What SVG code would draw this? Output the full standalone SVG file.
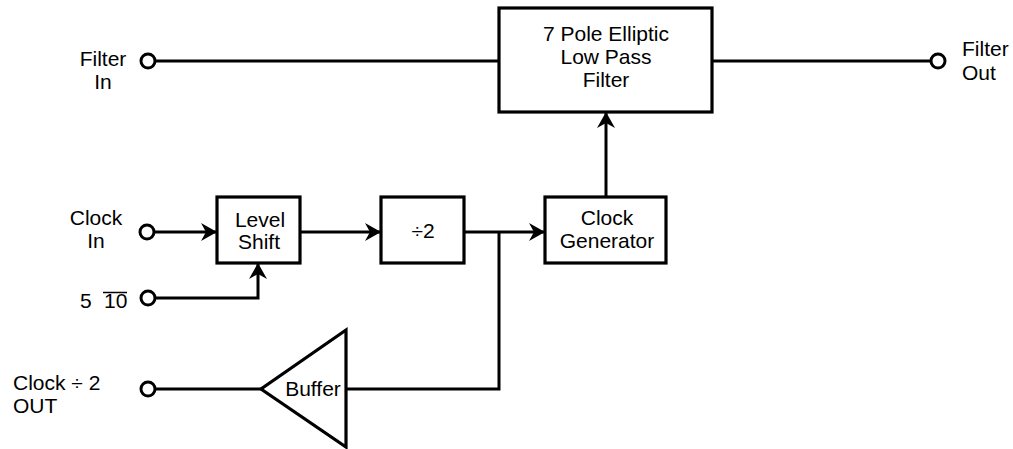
<svg xmlns="http://www.w3.org/2000/svg" width="1013" height="449" viewBox="0 0 1013 449">
<style>
  .box { fill: #ffffff; stroke: #000000; stroke-width: 3.2; }
  .wire { fill: none; stroke: #000000; stroke-width: 3; }
  .port { fill: #ffffff; stroke: #000000; stroke-width: 3; }
  .lbl { font-family: "Liberation Sans", Arial, Helvetica, sans-serif; font-size: 21px; fill: #000000; }
  .c { text-anchor: middle; }
</style>
<defs>
  <marker id="arr" markerUnits="userSpaceOnUse" markerWidth="20" markerHeight="22" viewBox="-17 -11 19 22" refX="0" refY="0" orient="auto">
    <path d="M1,0 L-15,-9 L-10,0 L-15,9 Z" fill="#000000"/>
  </marker>
</defs>
<rect width="1013" height="449" fill="#ffffff"/>
<g id="connectors">
  <line class="wire" x1="155" y1="61" x2="499" y2="61"/>
  <line class="wire" x1="712" y1="61" x2="931" y2="61"/>
  <line class="wire" x1="154" y1="232" x2="216" y2="232" marker-end="url(#arr)"/>
  <line class="wire" x1="300" y1="232" x2="380" y2="232" marker-end="url(#arr)"/>
  <line class="wire" x1="464" y1="232" x2="544" y2="232" marker-end="url(#arr)"/>
  <line class="wire" x1="606" y1="197" x2="606" y2="113" marker-end="url(#arr)"/>
  <path class="wire" d="M155,298 L258,298 L258,264" marker-end="url(#arr)"/>
  <path class="wire" d="M499,232 L499,389 L346,389"/>
  <line class="wire" x1="261" y1="389" x2="155" y2="389"/>
</g>
<g id="filter-in">
  <circle class="port" cx="148" cy="61" r="7"/>
  <text class="lbl c" x="103" y="66">Filter</text>
  <text class="lbl c" x="103" y="89">In</text>
</g>
<g id="filter">
  <rect class="box" x="499" y="8" width="213" height="104"/>
  <text class="lbl c" x="606" y="41">7 Pole Elliptic</text>
  <text class="lbl c" x="606" y="64">Low Pass</text>
  <text class="lbl c" x="606" y="87">Filter</text>
</g>
<g id="filter-out">
  <circle class="port" cx="938" cy="61" r="7"/>
  <text class="lbl" x="962" y="56">Filter</text>
  <text class="lbl" x="962" y="80">Out</text>
</g>
<g id="clock-in">
  <circle class="port" cx="147" cy="232" r="7"/>
  <text class="lbl c" x="96" y="225">Clock</text>
  <text class="lbl c" x="96" y="248">In</text>
</g>
<g id="level-shift">
  <rect class="box" x="217" y="197" width="83" height="66"/>
  <text class="lbl c" x="260" y="227">Level</text>
  <text class="lbl c" x="259" y="249">Shift</text>
</g>
<g id="divide-by-2">
  <rect class="box" x="381" y="197" width="83" height="66"/>
  <text class="lbl c" x="423" y="238">÷2</text>
</g>
<g id="clock-generator">
  <rect class="box" x="545" y="197" width="121" height="66"/>
  <text class="lbl c" x="607" y="225">Clock</text>
  <text class="lbl c" x="607" y="248">Generator</text>
</g>
<g id="supply-select">
  <circle class="port" cx="148" cy="298" r="7"/>
  <text class="lbl" x="80" y="308">5</text>
  <text class="lbl" x="104" y="308">10</text>
  <line x1="103" y1="292.5" x2="127" y2="292.5" stroke="#000000" stroke-width="1.5"/>
</g>
<g id="buffer">
  <path class="box" d="M346,330 L346,447 L261,389 Z" stroke-linejoin="miter"/>
  <text class="lbl c" x="313" y="396">Buffer</text>
</g>
<g id="clock-out">
  <circle class="port" cx="148" cy="389" r="7"/>
  <text class="lbl" x="13" y="390">Clock ÷ 2</text>
  <text class="lbl" x="13" y="413">OUT</text>
</g>
</svg>
